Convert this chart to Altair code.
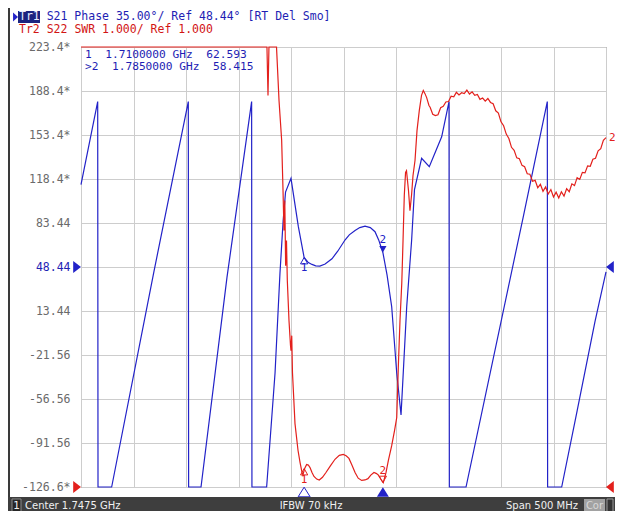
import altair as alt
import pandas as pd

# ---------------- data ----------------
# frequency axis (MHz): center 1747.5, span 500
F_START, F_STOP = 1497.5, 1997.5
x_ticks = [1497.5, 1547.5, 1597.5, 1647.5, 1697.5, 1747.5, 1797.5, 1847.5, 1897.5, 1947.5, 1997.5]

# Tr1: S21 phase, 35 deg/div, ref 48.44 deg
y_ticks = [223.44, 188.44, 153.44, 118.44, 83.44, 48.44, 13.44, -21.56, -56.56, -91.56, -126.56]
y_labels = ["223.4*", "188.4*", "153.4*", "118.4*", "83.44", "48.44", "13.44",
            "-21.56", "-56.56", "-91.56", "-126.6*"]
ref_phase = 48.44

blue_f = [1497.5, 1513.4, 1513.7, 1526.7, 1567.0, 1599.7, 1600.0, 1611.8, 1636.5, 1655.3,
          1660.0, 1660.3, 1674.3, 1682.3, 1687.0, 1690.0, 1692.3, 1697.5, 1704.5, 1710.0,
          1714.0, 1717.5, 1721.0, 1725.0, 1730.0, 1736.5, 1742.0, 1748.9, 1753.0, 1758.5,
          1763.0, 1768.0, 1773.0, 1777.5, 1781.0, 1785.0, 1789.0, 1793.4, 1798.2, 1802.3,
          1804.4, 1807.7, 1812.4, 1815.1, 1821.9, 1829.2, 1841.0, 1848.0, 1848.3, 1864.2,
          1918.6, 1941.6, 1941.9, 1955.3, 1970.0, 1987.0, 1997.5]
blue_v = [114, 180, -180, -126.6, 45, 180, -180, -126.6, 40, 152,
          180, -180, -126.6, -35.9, 43.6, 85, 108, 119, 80.5, 56,
          52, 50.5, 49.4, 49.2, 50.8, 55, 61, 69.9, 74, 77.5,
          79.8, 81, 79.8, 76.5, 70, 60, 42, 16.8, -35.9, -69.3,
          -35.9, 16.8, 69.9, 110, 134.9, 128.2, 152, 179.9, -180, -126.6,
          88, 180, -180, -126.6, -66, 5, 44.6]

# Tr2: S22 SWR, 1.000/div, ref 1.000 at bottom
SWR_BOTTOM, SWR_TOP = 1.0, 11.0
ref_swr = 1.0
red_f = [1497.5, 1674.6, 1675.6, 1676.5, 1678.0, 1683.7, 1686.1, 1688.6, 1689.9, 1690.8,
         1691.6, 1692.4, 1693.2, 1694.0, 1695.6, 1697.0, 1697.5, 1698.2, 1698.9, 1701.3,
         1704.2, 1706.1, 1708.0, 1708.9, 1710.5, 1712.4, 1714.0, 1715.6, 1717.5, 1719.4,
         1722.0, 1724.4, 1727.5, 1730.8, 1735.0, 1739.4, 1743.5, 1747.3, 1750.0, 1752.7,
         1755.5, 1758.5, 1761.5, 1764.8, 1768.0, 1770.8, 1773.5, 1776.5, 1778.5, 1780.4,
         1783.2, 1785.4, 1788.0, 1790.2, 1793.4, 1796.1, 1798.2, 1799.7, 1801.3, 1803.0,
         1804.2, 1805.4, 1806.6, 1807.5, 1809.4, 1810.8, 1812.3, 1813.7, 1815.6, 1817.5,
         1819.7, 1821.8, 1823.5, 1825.1, 1826.7, 1828.9,
         1830.0, 1832.5, 1835.0, 1837.5, 1840.0, 1842.5, 1845.0, 1847.5, 1850.0, 1852.5,
         1855.0, 1857.5, 1860.0, 1862.5, 1865.0, 1867.5, 1870.0, 1872.5, 1875.0, 1877.5,
         1880.0, 1882.5, 1885.0, 1887.5, 1890.0, 1892.5, 1895.0, 1897.5, 1900.0, 1902.5,
         1905.0, 1907.5, 1910.0, 1912.5, 1915.0, 1917.5, 1920.0, 1922.5, 1925.0, 1927.5,
         1930.0, 1932.5, 1935.0, 1937.5, 1940.0, 1942.5, 1945.0, 1947.5, 1950.0, 1952.5,
         1955.0, 1957.5, 1960.0, 1962.5, 1965.0, 1967.5, 1970.0, 1972.5, 1975.0, 1977.5,
         1980.0, 1982.5, 1985.0, 1987.5, 1990.0, 1992.5, 1995.0, 1997.5]
red_swr = [11.0, 11.0, 9.9, 11.0, 11.0, 11.0, 9.78, 8.88, 7.74, 6.83,
           7.51, 6.03, 6.60, 5.69, 4.78, 4.22, 4.10, 4.44, 3.60, 2.44,
           1.83, 1.56, 1.33, 1.28, 1.42, 1.51, 1.50, 1.44, 1.33, 1.24,
           1.18, 1.16, 1.22, 1.33, 1.48, 1.63, 1.72, 1.74, 1.71, 1.65,
           1.50, 1.33, 1.20, 1.15, 1.16, 1.19, 1.27, 1.33, 1.31, 1.28,
           1.17, 1.10, 1.33, 1.60, 1.94, 2.28, 2.58, 3.72, 4.78, 5.63,
           6.60, 7.63, 8.15, 8.19, 7.74, 7.28, 7.63, 8.08, 8.42, 9.10,
           9.56, 9.90, 10.01, 9.94, 9.85, 9.67,
           9.63, 9.47, 9.44, 9.46, 9.62, 9.65, 9.75, 9.76, 9.88, 9.87,
           9.97, 9.91, 9.96, 9.94, 10.02, 9.93, 9.98, 9.90, 9.92, 9.81,
           9.84, 9.77, 9.83, 9.74, 9.71, 9.55, 9.50, 9.30, 9.21, 9.02,
           8.92, 8.72, 8.65, 8.48, 8.46, 8.31, 8.28, 8.12, 8.11, 7.95,
           7.97, 7.80, 7.88, 7.72, 7.82, 7.66, 7.76, 7.59, 7.70, 7.57,
           7.71, 7.61, 7.78, 7.71, 7.89, 7.85, 8.03, 7.99, 8.15, 8.14,
           8.30, 8.29, 8.45, 8.47, 8.64, 8.69, 8.88, 8.94]

# markers
marker_names = ["1", "2"]
marker_f = [1710.0, 1785.0]
marker_blue_v = [56, 60]
marker_red_swr = [1.42, 1.10]
marker_table = ["\u00a01\u00a0\u00a01.7100000\u00a0GHz\u00a0\u00a062.593",
                ">2\u00a0\u00a01.7850000\u00a0GHz\u00a0\u00a058.415"]

trace1_tag = "Tr1"
header1 = "S21\u00a0Phase\u00a035.00\u00b0/\u00a0Ref\u00a048.44\u00b0\u00a0[RT\u00a0Del\u00a0Smo]"
header2 = "Tr2\u00a0S22\u00a0SWR\u00a01.000/\u00a0Ref\u00a01.000"
status_left = "Center 1.7475 GHz"
status_mid = "IFBW 70 kHz"
status_right = "Span 500 MHz"

# ---------------- styling ----------------
W, H = 525, 440
BLUE = "#2222c8"
BLUE_TXT = "#1e1eb4"
RED = "#e3201c"
RED_TXT = "#d21414"
GRID = "#cdcdcd"
GRAY = "#6a6a6a"
MONO = "DejaVu Sans Mono"
SANS = "DejaVu Sans"

TRI_UP = "M0,0L0.9,1.6L-0.9,1.6Z"
TRI_DOWN = "M0,0L0.9,-1.6L-0.9,-1.6Z"
STIM = "M0,-0.8L1,0.8L-1,0.8Z"
REF_L = "M-1.3,-1L0,0L-1.3,1Z"
REF_R = "M1.3,-1L0,0L1.3,1Z"

xscale = alt.Scale(domain=[F_START, F_STOP], nice=False, zero=False)
yscale = alt.Scale(domain=[y_ticks[-1], y_ticks[0]], nice=False, zero=False, clamp=True)
rscale = alt.Scale(domain=[SWR_BOTTOM, SWR_TOP], nice=False, zero=False, clamp=True)

label_expr = " : ".join(
    f"abs(datum.value - ({v})) < 0.01 ? '{t}'" for v, t in zip(y_ticks, y_labels)
) + " : ''"
color_expr = f"abs(datum.value - ({ref_phase})) < 0.01 ? '{BLUE_TXT}' : '{GRAY}'"

blue_df = pd.DataFrame({"f": blue_f, "v": blue_v})
red_df = pd.DataFrame({"f": red_f, "s": red_swr})

X = lambda: alt.X("f:Q", scale=xscale, axis=None)
YP = lambda: alt.Y("v:Q", scale=yscale, axis=None)
YR = lambda: alt.Y("s:Q", scale=rscale, axis=None)

blue = alt.Chart(blue_df).mark_line(color=BLUE, strokeWidth=1.2).encode(
    x=alt.X("f:Q", scale=xscale,
            axis=alt.Axis(values=x_ticks, grid=True, gridColor=GRID, gridWidth=1,
                          labels=False, ticks=False, domain=False, title=None)),
    y=alt.Y("v:Q", scale=yscale,
            axis=alt.Axis(values=y_ticks, grid=True, gridColor=GRID, gridWidth=1,
                          ticks=False, domain=False, title=None,
                          labelExpr=label_expr, labelColor={"expr": color_expr},
                          labelFont=MONO, labelFontSize=11.5, labelPadding=11)),
)

red = alt.Chart(red_df).mark_line(color=RED, strokeWidth=1.2).encode(x=X(), y=YR())

one = alt.Data(values=[{}])


def text(t, x, y, color, size=11.5, font=MONO, align="left"):
    return alt.Chart(one).mark_text(text=t, color=color, fontSize=size, font=font,
                                    align=align, baseline="middle").encode(
        x=alt.value(x), y=alt.value(y))


def rect(x1, x2, y1, y2, fill, stroke=None):
    kw = dict(fill=fill, opacity=1)
    if stroke:
        kw.update(stroke=stroke, strokeWidth=1)
    return alt.Chart(one).mark_rect(**kw).encode(
        x=alt.value(x1), x2=alt.value(x2), y=alt.value(y1), y2=alt.value(y2))


layers = [blue, red]

# marker symbols
for name, f, bv, rs in zip(marker_names, marker_f, marker_blue_v, marker_red_swr):
    d = alt.Chart(pd.DataFrame({"f": [f], "v": [bv], "s": [rs]}))
    up = name == "1"
    path = TRI_UP if up else TRI_DOWN
    dy = 11 if up else -12
    layers += [
        d.mark_point(shape=path, size=64, filled=not up, color=BLUE, strokeWidth=1, opacity=1).encode(x=X(), y=YP()),
        d.mark_text(text=name, dy=dy, color=BLUE, font=MONO, fontSize=11).encode(x=X(), y=YP()),
        d.mark_point(shape=path, size=64, filled=False, color=RED, strokeWidth=1, opacity=1).encode(x=X(), y=YR()),
        d.mark_text(text=name, dy=dy, color=RED, font=MONO, fontSize=11).encode(x=X(), y=YR()),
        d.mark_point(shape=STIM, size=144, filled=not up, color=BLUE, strokeWidth=1, opacity=1).encode(
            x=X(), y=alt.value(H + 5)),
    ]

# red marker 2 label at right edge
end_df = pd.DataFrame({"f": [red_f[-1]], "s": [red_swr[-1]]})
layers.append(alt.Chart(end_df).mark_text(text="2", dx=3, align="left", color=RED, font=MONO,
                                          fontSize=11).encode(x=X(), y=YR()))

# reference level arrows
refp = alt.Chart(pd.DataFrame({"v": [ref_phase]}))
refs = alt.Chart(pd.DataFrame({"s": [ref_swr]}))
layers += [
    refp.mark_point(shape=REF_L, size=144, filled=True, color=BLUE, opacity=1).encode(x=alt.value(0), y=YP()),
    refp.mark_point(shape=REF_R, size=144, filled=True, color=BLUE, opacity=1).encode(x=alt.value(W), y=YP()),
    refs.mark_point(shape=REF_L, size=144, filled=True, color=RED, opacity=1).encode(x=alt.value(0), y=YR()),
    refs.mark_point(shape=REF_R, size=144, filled=True, color=RED, opacity=1).encode(x=alt.value(W), y=YR()),
]

# header
CH = 6.92  # monospace character width at 11.5px
layers += [
    alt.Chart(one).mark_point(shape="M-1.1,-1L0,0L-1.1,1Z", size=81, filled=True, color=BLUE, opacity=1).encode(
        x=alt.value(-63), y=alt.value(-30)),
    rect(-63, -41, -36, -24, "#1c2480"),
    text(trace1_tag, -62, -30, "#e8ecff"),
    text(header1, -62 + 4 * CH, -30, BLUE_TXT),
    text(header2, -62, -17, RED_TXT),
]

# marker table
layers += [text(marker_table[0], 4, 8, BLUE_TXT, size=11.2),
           text(marker_table[1], 4, 19.5, BLUE_TXT, size=11.2)]

# left frame strip and status bar
layers += [
    rect(-73, -71, -39, 470, "#3a3a3a"),
    rect(-73, 540, 450, 470, "#3e3e3e"),
    rect(-69, -60, 452, 466, "#262626", "#8a8a8a"),
    text("1", -64.5, 459, "#f0f0f0", size=10.5, font=SANS, align="center"),
    text(status_left, -56, 459, "#f0f0f0", size=10, font=SANS),
    text(status_mid, 230, 459, "#f0f0f0", size=10, font=SANS, align="center"),
    text(status_right, 497, 459, "#f0f0f0", size=10, font=SANS, align="right"),
    rect(503, 524, 452, 466, "#a2a2a2"),
    text("Cor", 513.5, 459, "#d8d8d8", size=10, font=SANS, align="center"),
    rect(526, 532, 452, 466, "#333333", "#9a9a9a"),
]

chart = alt.layer(*layers).resolve_scale(x="independent", y="independent").properties(
    width=W, height=H,
    padding={"left": 73, "top": 39, "right": 9, "bottom": 24},
    autosize=alt.AutoSizeParams(type="none"),
    background="white",
).configure_view(stroke="#6e6e6e", strokeWidth=1)

chart.save("out.html", embed_options={"renderer": "svg", "actions": False})
